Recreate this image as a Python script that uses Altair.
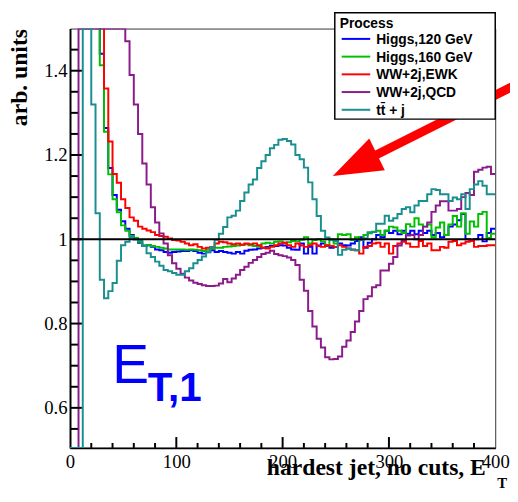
import altair as alt
import numpy as np
import pandas as pd

# ---------------- data ----------------
BIN_WIDTH = 4  # GeV per histogram bin
X_DOMAIN = [0, 400]
Y_DOMAIN = [0.505, 1.5]

X_LABELS = [0, 100, 200, 300, 400]
Y_LABELS = [0.6, 0.8, 1.0, 1.2, 1.4]
X_MAJOR = [100, 200, 300]
X_MINOR = [20, 40, 60, 80, 120, 140, 160, 180, 220, 240, 260, 280, 320, 340, 360, 380]
Y_MAJOR = [0.6, 0.8, 1.0, 1.2, 1.4]
Y_MINOR = [0.55, 0.65, 0.7, 0.75, 0.85, 0.9, 0.95, 1.05, 1.1, 1.15, 1.25, 1.3, 1.35, 1.45]
REFERENCE_LEVEL = [1.0]

SERIES = ["Higgs,120 GeV", "Higgs,160 GeV", "WW+2j,EWK", "WW+2j,QCD", "tt\u0304 + j"]
COLORS = ["#0000ff", "#00c000", "#ff0000", "#8b1a8b", "#1a8f8f"]

HIGGS_120 = [
    1.6, 1.6, 1.6, 1.6, 1.6, 1.6, 1.6, 1.44, 1.264, 1.169,
    1.105, 1.07, 1.043, 1.025, 1.01, 1.0, 0.992, 0.984, 0.986, 0.982,
    0.976, 0.974, 0.97, 0.968, 0.97, 0.971, 0.972, 0.972, 0.974, 0.972,
    0.968, 0.966, 0.969, 0.974, 0.97, 0.972, 0.97, 0.968, 0.966, 0.97,
    0.966, 0.973, 0.975, 0.976, 0.978, 0.98, 0.982, 0.984, 0.984, 0.986,
    0.985, 0.98, 0.976, 0.975, 0.99, 0.966, 0.982, 0.966, 0.985, 0.99,
    0.984, 0.98, 0.982, 0.99, 0.986, 0.985, 0.99, 0.996, 1.005, 0.98,
    0.992, 1.0, 1.01, 1.005, 1.02, 1.015, 1.02, 1.012, 1.02, 1.013,
    1.02, 1.012, 1.02, 1.015, 1.02, 1.01, 1.015, 1.005, 1.01, 1.03,
    1.035, 1.045, 1.06, 1.0, 0.998, 1.0, 1.01, 0.995, 1.015, 1.025,
]
HIGGS_160 = [
    1.6, 1.6, 1.6, 1.6, 1.6, 1.6, 1.6, 1.413, 1.255, 1.154,
    1.095, 1.064, 1.033, 1.02, 1.008, 1.003, 0.994, 0.986, 0.986, 0.984,
    0.982, 0.98, 0.978, 0.976, 0.976, 0.976, 0.976, 0.975, 0.976, 0.975,
    0.974, 0.972, 0.975, 0.978, 0.98, 0.98, 0.982, 0.983, 0.984, 0.985,
    0.987, 0.988, 0.986, 0.984, 0.983, 0.99, 0.992, 0.99, 0.994, 0.995,
    0.992, 0.993, 0.996, 0.995, 0.999, 1.005, 0.99, 0.998, 1.0, 0.995,
    0.985, 1.0, 0.99, 1.012, 1.01, 1.012, 0.998, 1.005, 1.0, 1.01,
    1.014, 1.018, 1.02, 1.01, 1.02, 1.03, 1.028, 1.02, 1.015, 1.036,
    1.03, 1.05, 1.035, 1.03, 1.035, 1.005, 1.028, 1.04, 1.01, 1.035,
    1.055, 1.03, 1.062, 1.013, 1.042, 1.03, 1.06, 1.065, 1.003, 1.013,
]
WW_EWK = [
    1.6, 1.6, 1.6, 1.6, 1.6, 1.6, 1.6, 1.6, 1.358, 1.232,
    1.155, 1.134, 1.095, 1.074, 1.052, 1.044, 1.03, 1.025, 1.021, 1.017,
    1.01, 1.008, 1.006, 1.002, 0.998, 0.997, 0.994, 0.99, 0.986, 0.988,
    0.982, 0.978, 0.98, 0.982, 0.99, 0.994, 0.993, 0.99, 0.988, 0.99,
    0.987, 0.99, 0.988, 0.99, 0.986, 0.98, 0.978, 0.982, 0.986, 0.99,
    0.992, 0.986, 0.982, 0.99, 0.985, 0.982, 0.986, 0.99, 0.984, 0.982,
    0.986, 0.984, 0.982, 0.986, 0.982, 0.978, 0.976, 0.974, 0.966, 0.982,
    0.984, 0.99, 0.992, 0.982, 0.99, 0.966, 0.984, 0.99, 0.994, 0.99,
    0.982, 0.982, 0.996, 0.984, 0.99, 0.974, 0.974, 0.982, 0.98, 0.994,
    0.996, 0.986, 0.99, 0.994, 0.996, 0.982, 0.984, 0.984, 0.986, 0.986,
]
WW_QCD = [
    0.4, 0.4, 1.5, 1.5, 1.5, 1.5, 1.5, 1.5, 1.5, 1.5,
    1.5, 1.5, 1.5, 1.47, 1.39, 1.32, 1.25, 1.18, 1.13, 1.076,
    1.04, 1.014, 0.99, 0.962, 0.943, 0.93, 0.918, 0.909, 0.902, 0.897,
    0.894, 0.891, 0.889, 0.889, 0.89, 0.895, 0.906, 0.898, 0.907, 0.916,
    0.927, 0.935, 0.944, 0.951, 0.958, 0.965, 0.968, 0.973, 0.965, 0.962,
    0.96, 0.957, 0.951, 0.939, 0.904, 0.878, 0.83, 0.793, 0.764, 0.743,
    0.72, 0.715, 0.716, 0.722, 0.745, 0.76, 0.78, 0.805, 0.83, 0.858,
    0.865, 0.886, 0.891, 0.926, 0.926, 0.942, 0.958, 0.985, 0.998, 1.009,
    1.01, 1.0, 1.01, 1.03, 1.04, 1.065, 1.08, 1.09, 1.09, 1.068,
    1.068, 1.072, 1.10, 1.11, 1.105, 1.16, 1.165, 1.17, 1.172, 1.155,
]
TTBAR_J = [
    0.4, 0.4, 0.4, 1.5, 1.5, 1.32, 1.062, 0.904, 0.86, 0.877,
    0.896, 0.949, 0.986, 0.994, 1.005, 1.0, 0.998, 0.984, 0.967, 0.958,
    0.947, 0.937, 0.927, 0.924, 0.92, 0.916, 0.916, 0.924, 0.931, 0.943,
    0.951, 0.959, 0.97, 0.982, 0.999, 1.013, 1.029, 1.052, 1.056, 1.068,
    1.091, 1.111, 1.13, 1.142, 1.169, 1.185, 1.2, 1.216, 1.224, 1.236,
    1.238, 1.233, 1.225, 1.2, 1.19, 1.17, 1.135, 1.095, 1.055, 1.02,
    1.004, 0.999, 0.996, 0.963, 0.975, 0.978, 0.975, 0.974, 0.998, 1.002,
    1.017, 1.017, 1.037, 1.037, 1.056, 1.044, 1.05, 1.06, 1.072, 1.076,
    1.064, 1.08, 1.091, 1.091, 1.107, 1.119, 1.117, 1.107, 1.107, 1.091,
    1.099, 1.095, 1.107, 1.072, 1.119, 1.13, 1.138, 1.127, 1.107, 1.107,
]
ALL_SERIES = [HIGGS_120, HIGGS_160, WW_EWK, WW_QCD, TTBAR_J]

# annotation arrow (data coordinates): shaft from tail to head, head centre
ARROW_X = [420.4, 281.5]
ARROW_Y = [1.368, 1.192]
ARROW_HEAD_X = [268.0]
ARROW_HEAD_Y = [1.176]

LABEL_BIG = ["E"]
LABEL_SUB = ["T,1"]
X_TITLE = "hardest jet, no cuts, E"
X_TITLE_SUB = ["T"]
Y_TITLE = "arb. units"
LEGEND_TITLE = ["Process"]

# ---------------- layout ----------------
W, H = 432, 426
SERIF = "Liberation Serif"
SANS = "Liberation Sans"

xs = alt.Scale(domain=X_DOMAIN, nice=False, zero=False)
ys = alt.Scale(domain=Y_DOMAIN, nice=False, zero=False)

x_axis = alt.Axis(values=X_LABELS, ticks=False, tickSize=0, grid=False,
                  domainColor="black", domainWidth=2,
                  labelFont=SERIF, labelFontSize=19, labelColor="black",
                  labelPadding=5, labelFlush=False, labelOverlap=False,
                  title=X_TITLE, titleFont=SERIF, titleFontSize=24,
                  titleFontWeight="bold", titleColor="black",
                  titleAlign="right", titleBaseline="alphabetic",
                  titleX=422, titleY=27)
y_axis = alt.Axis(values=Y_LABELS, format="~g", ticks=False, tickSize=0, grid=False,
                  domainColor="black", domainWidth=2,
                  labelFont=SERIF, labelFontSize=19, labelColor="black",
                  labelPadding=3, labelOverlap=False,
                  title=Y_TITLE, titleFont=SERIF, titleFontSize=24,
                  titleFontWeight="bold", titleColor="black", titleAngle=270,
                  titleAlign="right", titleBaseline="alphabetic",
                  titleX=-44, titleY=0)


def X(field):
    return alt.X(f"{field}:Q", scale=xs, axis=x_axis, title=X_TITLE)


def Y(field):
    return alt.Y(f"{field}:Q", scale=ys, axis=y_axis, title=Y_TITLE)


def hist_df(vals):
    v = [max(a, Y_DOMAIN[0]) for a in vals]  # underflow drawn on the frame, like ROOT
    return pd.DataFrame({"E": [BIN_WIDTH * i for i in range(len(v) + 1)],
                         "r": v + [v[-1]]})


layers = []
for vals, col in zip(ALL_SERIES, COLORS):
    layers.append(
        alt.Chart(hist_df(vals)).mark_line(
            interpolate="step-after", clip=True, color=col, strokeWidth=2
        ).encode(x=X("E"), y=Y("r"))
    )

# reference line at 1
layers.append(
    alt.Chart(pd.DataFrame({"r": REFERENCE_LEVEL})).mark_rule(color="black", strokeWidth=2)
    .encode(y=Y("r"))
)

# inward ticks (ROOT style)
for vals, length in [(Y_MAJOR, 12), (Y_MINOR, 8)]:
    layers.append(
        alt.Chart(pd.DataFrame({"r": vals})).mark_rule(color="black", strokeWidth=2)
        .encode(y=Y("r"), x=alt.value(0), x2=alt.value(length))
    )
for vals, length in [(X_MAJOR, 11), (X_MINOR, 5)]:
    layers.append(
        alt.Chart(pd.DataFrame({"E": vals})).mark_rule(color="black", strokeWidth=2)
        .encode(x=X("E"), y=alt.value(H), y2=alt.value(H - length))
    )

one = pd.DataFrame({"k": [0]})

# subscript of the x title
layers.append(
    alt.Chart(pd.DataFrame({"t": X_TITLE_SUB})).mark_text(
        font=SERIF, fontSize=15, fontWeight="bold", color="black",
        align="left", baseline="alphabetic"
    ).encode(x=alt.value(434), y=alt.value(467), text="t:N")
)

# E_T,1 label
layers.append(
    alt.Chart(pd.DataFrame({"t": LABEL_BIG})).mark_text(
        font=SANS, fontSize=56, color="#0000ff", align="left", baseline="alphabetic"
    ).encode(x=alt.value(43), y=alt.value(360), text="t:N")
)
layers.append(
    alt.Chart(pd.DataFrame({"t": LABEL_SUB})).mark_text(
        font=SANS, fontSize=41, fontWeight="bold", color="#0000ff",
        align="left", baseline="alphabetic"
    ).encode(x=alt.value(79), y=alt.value(378), text="t:N")
)

# red arrow
layers.append(
    alt.Chart(pd.DataFrame({"E": ARROW_X, "r": ARROW_Y})).mark_line(
        color="#ff0000", strokeWidth=9, strokeCap="butt"
    ).encode(x=X("E"), y=Y("r"))
)
layers.append(
    alt.Chart(pd.DataFrame({"E": ARROW_HEAD_X, "r": ARROW_HEAD_Y})).mark_point(
        shape="M0,-1L0.72,1L-0.72,1Z", size=2500, angle=244, filled=True,
        color="#ff0000", opacity=1, strokeWidth=0
    ).encode(x=X("E"), y=Y("r"))
)

# legend box (drawn by hand, ROOT TLegend style)
LEG_LEFT, LEG_RIGHT, LEG_TOP, LEG_BOTTOM = 269, 432, -16, 92
ROW0, ROW_STEP = 10.5, 18
layers.append(
    alt.Chart(one).mark_rect(fill="white", stroke="black", strokeWidth=1.5).encode(
        x=alt.value(LEG_LEFT), x2=alt.value(LEG_RIGHT),
        y=alt.value(LEG_TOP), y2=alt.value(LEG_BOTTOM))
)
layers.append(
    alt.Chart(pd.DataFrame({"t": LEGEND_TITLE})).mark_text(
        font=SANS, fontSize=14, fontWeight="bold", color="black",
        align="left", baseline="alphabetic"
    ).encode(x=alt.value(LEG_LEFT + 5), y=alt.value(-1), text="t:N")
)
for i, (name, col) in enumerate(zip(SERIES, COLORS)):
    yy = ROW0 + ROW_STEP * i
    layers.append(
        alt.Chart(one).mark_rule(color=col, strokeWidth=2).encode(
            x=alt.value(LEG_LEFT + 7), x2=alt.value(LEG_LEFT + 36), y=alt.value(yy))
    )
    layers.append(
        alt.Chart(pd.DataFrame({"t": [name]})).mark_text(
            font=SANS, fontSize=14, fontWeight="bold", color="black",
            align="left", baseline="middle"
        ).encode(x=alt.value(LEG_LEFT + 42), y=alt.value(yy + 1), text="t:N")
    )

chart = alt.layer(*layers).properties(
    width=W, height=H,
    padding={"left": 63, "top": 17, "right": 15, "bottom": 46},
    autosize=alt.AutoSizeParams(type="none"),
    background="white",
).configure_view(stroke="#333333", strokeWidth=1)

chart.save("out.html", embed_options={"renderer": "svg", "actions": False})
